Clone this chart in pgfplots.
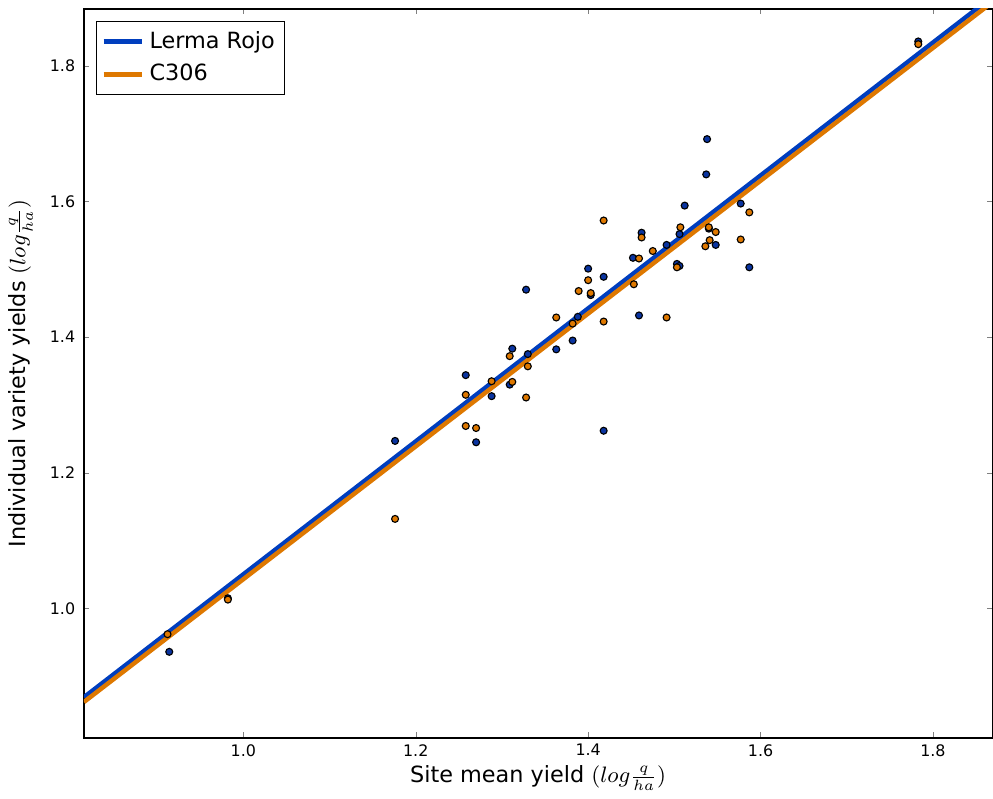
\documentclass[border=0pt]{standalone}
\usepackage{pgfplots}
\pgfplotsset{compat=1.18}
\usepackage{fontspec}
\setmainfont{DejaVu Sans}
\definecolor{lrblue}{RGB}{0,62,190}
\definecolor{corange}{RGB}{222,120,0}
\definecolor{dotblue}{RGB}{10,52,160}

\begin{document}
\begin{tikzpicture}
\begin{axis}[scale only axis, width=128.6mm, height=103.2mm,
  xmin=0.815, xmax=1.869, ymin=0.809, ymax=1.884,
  xtick={1.0,1.2,1.4,1.6,1.8}, ytick={1.0,1.2,1.4,1.6,1.8},
  /pgf/number format/fixed, /pgf/number format/fixed zerofill,
  /pgf/number format/precision=1,
  /pgf/number format/assume math mode=true,
  tick label style={font=\fontsize{6.4}{7}\selectfont},
  xticklabel style={yshift=1pt},
  label style={font=\fontsize{9}{10}\selectfont},
  xlabel={Site mean yield $(log\frac{q}{ha})$},
  ylabel={Individual variety yields $(log\frac{q}{ha})$},
  xlabel style={yshift=3pt},
  tick align=inside, major tick length=2.2pt, axis line style={line width=0.5pt},
  clip=true,
  legend style={at={(0.013,0.984)}, anchor=north west, draw=black, line width=0.5pt,
    font=\fontsize{9}{10}\selectfont, inner sep=2pt, row sep=1pt},
  legend cell align=left,
  legend image code/.code={\draw[#1, line width=1.8pt] (0cm,0cm) -- (0.55cm,0cm);}]

% Lerma Rojo points
\addplot[only marks, mark=*, mark size=1.4pt, mark options={fill=dotblue, draw=black, line width=0.45pt}, forget plot] coordinates {
(0.914,0.936) (0.982,1.015) (1.176,1.247) (1.258,1.344) (1.270,1.245)
(1.288,1.313) (1.309,1.330) (1.312,1.383) (1.330,1.375) (1.328,1.470)
(1.363,1.382) (1.382,1.395) (1.388,1.430) (1.400,1.501) (1.403,1.462)
(1.418,1.489) (1.418,1.262) (1.452,1.517) (1.459,1.432) (1.462,1.554)
(1.491,1.536) (1.503,1.508) (1.506,1.505) (1.506,1.552) (1.512,1.594)
(1.537,1.640) (1.538,1.692) (1.540,1.560) (1.548,1.536) (1.577,1.597)
(1.587,1.503) (1.783,1.836)};

% C306 points
\addplot[only marks, mark=*, mark size=1.4pt, mark options={fill=corange, draw=black, line width=0.45pt}, forget plot] coordinates {
(0.912,0.962) (0.982,1.013) (1.176,1.132) (1.258,1.315) (1.258,1.269)
(1.270,1.266) (1.288,1.335) (1.309,1.372) (1.312,1.334) (1.328,1.311)
(1.330,1.357) (1.363,1.429) (1.382,1.420) (1.389,1.468) (1.400,1.484)
(1.403,1.465) (1.418,1.572) (1.418,1.423) (1.453,1.478) (1.459,1.516)
(1.462,1.547) (1.475,1.527) (1.491,1.429) (1.503,1.503) (1.507,1.562)
(1.536,1.534) (1.541,1.543) (1.540,1.562) (1.548,1.555) (1.577,1.544)
(1.587,1.584) (1.783,1.832)};

% fitted lines
\addplot[lrblue, line width=1.8pt] coordinates {(0.815,0.869) (1.869,1.902)};
\addlegendentry{Lerma Rojo}
\addplot[corange, line width=1.8pt] coordinates {(0.815,0.862) (1.869,1.894)};
\addlegendentry{C306}
\end{axis}
\path ([yshift=3.6pt]current axis.north) coordinate (toppad);
\end{tikzpicture}
\end{document}
